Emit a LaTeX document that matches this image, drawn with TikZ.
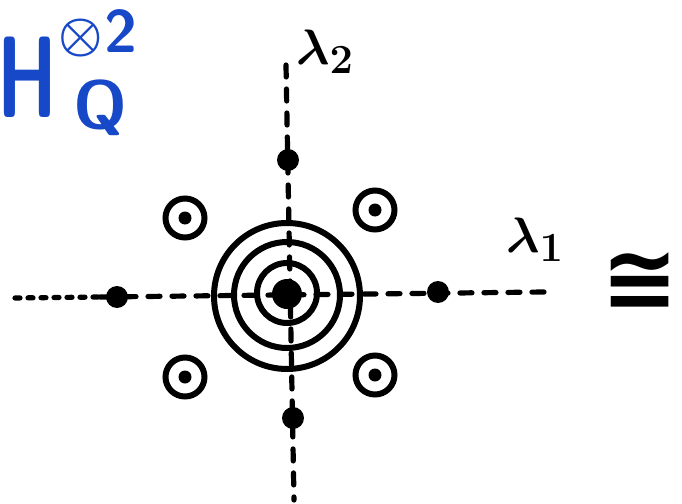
\documentclass[tikz,border=0pt]{standalone}
\usepackage{amsmath,amssymb}
\usepackage{fontspec}
\newfontfamily\djb{DejaVu Sans}[BoldFont={DejaVu Sans Bold}]
\begin{document}
\begin{tikzpicture}[x=0.5pt,y=-0.5pt,line width=3pt,line cap=round]
\definecolor{penblue}{RGB}{22,72,200}
\tikzset{
  dot/.style={circle,fill=black,inner sep=0pt,minimum size=11pt},
  ringo/.style={circle,draw,line width=3pt,inner sep=0pt,minimum size=19.5pt},
  ringdot/.style={circle,fill=black,inner sep=0pt,minimum size=6.5pt},
  conc/.style={circle,draw,line width=3pt,inner sep=0pt},
  axdash/.style={line width=2.6pt,dash pattern=on 6pt off 6pt},
  axdot/.style={line width=2.6pt,dash pattern=on 2.5pt off 4pt},
  lbl/.style={inner sep=0pt,font=\fontsize{30}{32}\selectfont\boldmath},
  blu/.style={inner sep=0pt,text=penblue}
}
\useasboundingbox (0,0) rectangle (682,504);
% axis end points
\coordinate (hl) at (15,298);
\coordinate (hm) at (100,297);
\coordinate (hr) at (545,292);
\coordinate (vt) at (286,65);
\coordinate (vb) at (294,500);
% centre
\node[dot,minimum size=15pt] (c) at (287,294) {};
% axes
\draw[axdot] (hl) -- (hm);
\draw[axdash] (hm) -- (hr);
\draw[axdash] (vt) -- (vb);
% concentric circles
\node[conc,minimum size=30pt] (c1) at (287,293) {};
\node[conc,minimum size=53pt] (c2) at (287,295) {};
\node[conc,minimum size=73pt] (c3) at (287,296) {};
% dots on axes
\node[dot] (dl) at (117,297) {};
\node[dot] (dr) at (438,292) {};
\node[dot] (dt) at (288,160) {};
\node[dot] (db) at (293,418) {};
% ringed dots
\foreach \n/\x/\y in {a/185/218, b/375/210, cc/185/377, d/375/375}{
  \node[ringo] (r\n) at (\x,\y) {};
  \node[ringdot] (rd\n) at (\x,\y) {};
}
% labels
\node[lbl] (l2) at (325,52) {$\lambda_2$};
\node[lbl] (l1) at (535,240) {$\lambda_1$};
\node[inner sep=0pt,font=\fontsize{46}{48}\selectfont\djb\bfseries] (iso) at (640,282) {≅};
% blue H
\node[blu,xscale=0.65,font=\fontsize{58}{60}\selectfont\sffamily\bfseries] (H) at (27,77) {H};
\node[blu,font=\fontsize{28}{30}\selectfont\boldmath] (T) at (81,38) {$\otimes$};
\node[blu,font=\fontsize{30}{32}\selectfont\sffamily\bfseries] (Two) at (121,31) {2};
\node[blu,font=\fontsize{34}{36}\selectfont\sffamily\bfseries] (Q) at (100,108) {Q};
\end{tikzpicture}
\end{document}
